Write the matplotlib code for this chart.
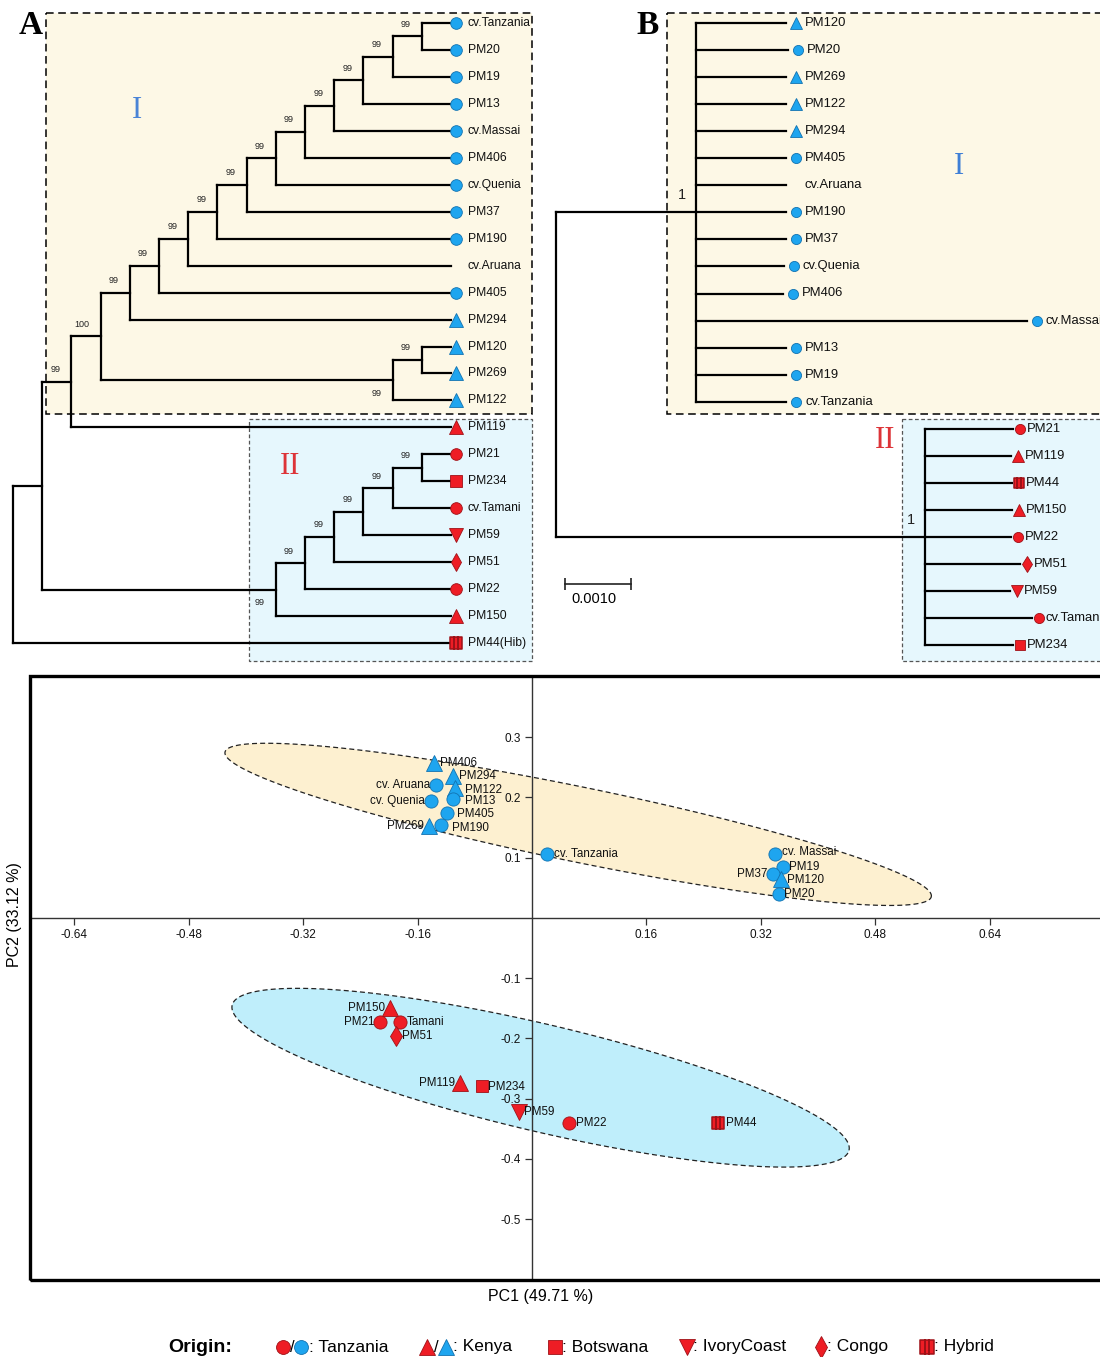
import matplotlib
matplotlib.use("Agg")
import matplotlib.pyplot as plt
import matplotlib.transforms as mtransforms
from matplotlib.collections import LineCollection
from matplotlib.patches import Rectangle, Polygon
from matplotlib.path import Path
import numpy as np

plt.rcParams['font.family'] = ['Liberation Sans', 'DejaVu Sans']
plt.rcParams['axes.unicode_minus'] = False

W, H = 1100, 1357

# ---------------- data ----------------
# panel A: maximum-likelihood cladogram with bootstrap support
TREE_A = ("(((((((((((((((cv.Tanzania,PM20)99,PM19)99,PM13)99,cv.Massai)99,PM406)99,"
          "cv.Quenia)99,PM37)99,PM190)99,cv.Aruana)99,PM405)99,PM294)99,"
          "((PM120,PM269)99,PM122)99)100,PM119)99,"
          "((((((PM21,PM234)99,cv.Tamani)99,PM59)99,PM51)99,PM22)99,PM150)99),"
          "'PM44(Hib)');")

# panel B: bayesian phylogram with posterior probabilities and branch lengths
TREE_B = ("((PM120:0.00137,PM20:0.00139,PM269:0.00136,PM122:0.00136,PM294:0.00136,"
          "PM405:0.00136,cv.Aruana:0.00136,PM190:0.00136,PM37:0.00136,cv.Quenia:0.00133,"
          "PM406:0.00132,cv.Massai:0.00501,PM13:0.00137,PM19:0.00136,cv.Tanzania:0.00137)1:0.00212,"
          "(PM21:0.00133,PM119:0.00130,PM44:0.00132,PM150:0.00132,PM22:0.00130,PM51:0.00144,"
          "PM59:0.00129,cv.Tamani:0.00162,PM234:0.00133)1:0.00559);")

TREE_ORIGIN = {
    'cv.Tanzania': 'Tanzania', 'PM20': 'Tanzania', 'PM19': 'Tanzania', 'PM13': 'Tanzania',
    'cv.Massai': 'Tanzania', 'PM406': 'Tanzania', 'cv.Quenia': 'Tanzania', 'PM37': 'Tanzania',
    'PM190': 'Tanzania', 'PM405': 'Tanzania', 'PM294': 'Kenya', 'PM120': 'Kenya',
    'PM269': 'Kenya', 'PM122': 'Kenya', 'PM119': 'Kenya', 'PM21': 'Tanzania',
    'PM234': 'Botswana', 'cv.Tamani': 'Tanzania', 'PM59': 'IvoryCoast', 'PM51': 'Congo',
    'PM22': 'Tanzania', 'PM150': 'Kenya', 'PM44(Hib)': 'Hybrid', 'PM44': 'Hybrid',
}
GROUP_II = ['PM119', 'PM21', 'PM234', 'cv.Tamani', 'PM59', 'PM51', 'PM22', 'PM150',
            'PM44(Hib)', 'PM44']

# panel C: PCA
pca_names = ['PM406', 'PM294', 'cv. Aruana', 'PM122', 'cv. Quenia', 'PM13', 'PM405',
             'PM269', 'PM190', 'cv. Tanzania', 'cv. Massai', 'PM19', 'PM37', 'PM120', 'PM20',
             'PM150', 'PM21', 'Tamani', 'PM51', 'PM119', 'PM234', 'PM59', 'PM22', 'PM44']
pca_pc1 = [-0.137, -0.110, -0.134, -0.108, -0.141, -0.110, -0.119, -0.144, -0.127, 0.021,
           0.340, 0.351, 0.337, 0.348, 0.345,
           -0.198, -0.212, -0.184, -0.190, -0.101, -0.070, -0.018, 0.052, 0.260]
pca_pc2 = [0.257, 0.236, 0.221, 0.215, 0.194, 0.197, 0.174, 0.152, 0.154, 0.106,
           0.106, 0.085, 0.073, 0.064, 0.040,
           -0.150, -0.173, -0.173, -0.196, -0.274, -0.279, -0.323, -0.341, -0.341]
pca_origin = ['Kenya', 'Kenya', 'Tanzania', 'Kenya', 'Tanzania', 'Tanzania', 'Tanzania',
              'Kenya', 'Tanzania', 'Tanzania', 'Tanzania', 'Tanzania', 'Tanzania', 'Kenya',
              'Tanzania', 'Kenya', 'Tanzania', 'Tanzania', 'Congo', 'Kenya', 'Botswana',
              'IvoryCoast', 'Tanzania', 'Hybrid']
pca_group = ['I'] * 15 + ['II'] * 9

# group ellipses: the two tips of the long axis (PC1, PC2) and the short/long axis ratio
ell_I_tips = [(-0.429, 0.275), (0.558, 0.035)]
ell_I_ratio = 0.104
ell_II_tips = [(-0.419, -0.145), (0.443, -0.386)]
ell_II_ratio = 0.169

xticks_c = [-0.64, -0.48, -0.32, -0.16, 0.16, 0.32, 0.48, 0.64]
yticks_c = [0.3, 0.2, 0.1, -0.1, -0.2, -0.3, -0.4, -0.5]

# label placement for panel C (pixels): dx, dy, side
pca_label_pos = [(6, 0, 'l'), (6, 0, 'l'), (-6, 0, 'r'), (10, -2, 'l'), (-6, 0, 'r'),
                 (12, -2, 'l'), (10, -1, 'l'), (-5, 0, 'r'), (11, -3, 'l'), (7, 0, 'l'),
                 (7, 2, 'l'), (6, 0, 'l'), (-6, 0, 'r'), (6, -1, 'l'), (5, 0, 'l'),
                 (-5, 0, 'r'), (-6, 0, 'r'), (6, 0, 'l'), (6, 0, 'l'), (-5, 0, 'r'),
                 (6, -1, 'l'), (5, 0, 'l'), (7, 0, 'l'), (8, 0, 'l')]

# ---------------- styles ----------------
BLUE, BLUE_EDGE = '#1ea5ef', '#1272b0'
RED, RED_EDGE = '#ee1d25', '#9e1117'


def hybrid_path():
    verts, codes = [], []
    for i in range(3):
        x0 = -0.5 + i / 3
        verts += [(x0, -0.5), (x0 + 1 / 3, -0.5), (x0 + 1 / 3, 0.5), (x0, 0.5), (x0, -0.5)]
        codes += [Path.MOVETO, Path.LINETO, Path.LINETO, Path.LINETO, Path.CLOSEPOLY]
    return Path(verts, codes)


MARKERS = {'Tanzania': 'o', 'Kenya': '^', 'Botswana': 's', 'IvoryCoast': 'v',
           'Congo': 'd', 'Hybrid': hybrid_path()}
SIZE_SCALE = {'Tanzania': 1.0, 'Kenya': 1.2, 'Botswana': 0.95, 'IvoryCoast': 1.15,
              'Congo': 1.1, 'Hybrid': 0.95}
EDGE_W = {'Tanzania': 0.6, 'Kenya': 0.6, 'Botswana': 0.6, 'IvoryCoast': 0.6,
          'Congo': 0.6, 'Hybrid': 1.1}


def parse_newick(s):
    pos = 0

    def node():
        nonlocal pos
        kids = []
        if s[pos] == '(':
            pos += 1
            kids.append(node())
            while s[pos] == ',':
                pos += 1
                kids.append(node())
            pos += 1
        if s[pos] == "'":
            end = s.index("'", pos + 1)
            name = s[pos + 1:end]
            pos = end + 1
        else:
            start = pos
            while s[pos] not in ",():;":
                pos += 1
            name = s[start:pos]
        length = 0.0
        if s[pos] == ':':
            pos += 1
            start = pos
            while s[pos] not in ",();":
                pos += 1
            length = float(s[start:pos])
        return {"name": name, "kids": kids, "len": length}

    return node()


def layout(root, cladogram):
    leaves = []

    def height(n):
        n["h"] = 0 if not n["kids"] else 1 + max(height(k) for k in n["kids"])
        return n["h"]

    height(root)

    def place(n, px, first):
        n["x"] = (root["h"] - n["h"]) if cladogram else px + n["len"]
        n["first"] = first
        if n["kids"]:
            for i, k in enumerate(n["kids"]):
                place(k, n["x"], i == 0)
            n["y"] = (n["kids"][0]["y"] + n["kids"][-1]["y"]) / 2
        else:
            n["y"] = len(leaves)
            leaves.append(n)

    place(root, 0.0, True)
    return leaves


def marker_kw(org, red, ms):
    return dict(marker=MARKERS[org], ms=ms * SIZE_SCALE[org], mfc=RED if red else BLUE,
                mec=RED_EDGE if red else BLUE_EDGE, mew=EDGE_W[org], ls='none')


def draw_tree(ax, root, leaves, ms, fs, mark_dx, text_dx, sup_fs, sup_off):
    segs, internals = [], []

    def walk(n):
        if n["kids"]:
            internals.append(n)
            segs.append([(n["x"], n["kids"][0]["y"]), (n["x"], n["kids"][-1]["y"])])
            for k in n["kids"]:
                segs.append([(n["x"], k["y"]), (k["x"], k["y"])])
                walk(k)

    walk(root)
    ax.add_collection(LineCollection(segs, colors='black', linewidths=1.6,
                                     capstyle='projecting', zorder=2))
    for n in internals:
        if n is root or not n["name"]:
            continue
        dx, dy = sup_off(n)
        ax.annotate(n["name"], (n["x"], n["y"]), xytext=(dx, dy), textcoords='offset pixels',
                    ha='center', va='center', fontsize=sup_fs, color='#222222')
    for lf in leaves:
        name = lf["name"]
        red = name in GROUP_II
        mdx = mark_dx[1] if red else mark_dx[0]
        tdx = text_dx[1] if red else text_dx[0]
        org = TREE_ORIGIN.get(name)
        if org:
            tr = mtransforms.offset_copy(ax.transData, fig=ax.figure, x=mdx, y=0, units='dots')
            ax.plot([lf["x"]], [lf["y"]], transform=tr, zorder=3, clip_on=False,
                    **marker_kw(org, red, ms))
        ax.annotate(name, (lf["x"], lf["y"]), xytext=(tdx, 0), textcoords='offset pixels',
                    ha='left', va='center', fontsize=fs, color='#111111')


def rect(x0, y0, x1, y1):
    return [x0 / W, 1 - y1 / H, (x1 - x0) / W, (y1 - y0) / H]


fig = plt.figure(figsize=(W / 100, H / 100), dpi=100)

# background / decoration layer in pixel coordinates
deco = fig.add_axes([0, 0, 1, 1])
deco.set_xlim(0, W)
deco.set_ylim(H, 0)
deco.axis('off')

deco.add_patch(Rectangle((46, 13), 486, 401, fc='#fdf8e6', ec='black', lw=1.1, ls=(0, (5, 3))))
deco.add_patch(Rectangle((249, 419), 283, 242, fc='#e6f7fd', ec='#555555', lw=0.9, ls=(0, (3, 2))))
deco.add_patch(Rectangle((667, 13), 480, 401, fc='#fdf8e6', ec='black', lw=1.1, ls=(0, (5, 3))))
deco.add_patch(Rectangle((902, 419), 250, 242, fc='#e6f7fd', ec='#555555', lw=0.9, ls=(0, (3, 2))))

serif = ['Liberation Serif', 'DejaVu Serif']
for letter, (x, y) in zip('ABC', [(31, 25), (648, 25), (55, 700)]):
    deco.text(x, y, letter, family=serif, fontsize=24, fontweight='bold', ha='center', va='center')
for txt, (x, y), col in [('I', (137, 111), '#4a84d6'), ('II', (290, 466), '#dd3438'),
                         ('I', (959, 166), '#3f7fd6'), ('II', (885, 441), '#dd3438')]:
    deco.text(x, y, txt, family=serif, fontsize=22, color=col, ha='center', va='center')

# ---------------- panel A ----------------
tree_a = parse_newick(TREE_A)
leaves_a = layout(tree_a, cladogram=True)
ax_a = fig.add_axes(rect(0, 0, 550, 670))
ax_a.set_xlim((0 - 13) / 29.2, (550 - 13) / 29.2)
ax_a.set_ylim((670 - 23) / 26.96, (0 - 23) / 26.96)
ax_a.axis('off')
ax_a.patch.set_visible(False)


def sup_a(n):
    dx = -19 if n["name"] == '100' else -16
    return (dx, 12) if n["first"] else (dx, -13)


draw_tree(ax_a, tree_a, leaves_a, ms=8.4, fs=8.7, mark_dx=(5, 5), text_dx=(17, 17),
          sup_fs=6.5, sup_off=sup_a)

# ---------------- panel B ----------------
tree_b = parse_newick(TREE_B)
leaves_b = layout(tree_b, cladogram=False)
ax_b = fig.add_axes(rect(540, 0, 1100, 670))
ax_b.set_xlim((540 - 556) / 66000, (1100 - 556) / 66000)
ax_b.set_ylim((670 - 23) / 27.05, (0 - 23) / 27.05)
ax_b.axis('off')
ax_b.patch.set_visible(False)
draw_tree(ax_b, tree_b, leaves_b, ms=7.3, fs=9.4, mark_dx=(10, 7), text_dx=(19, 14),
          sup_fs=10.5, sup_off=lambda n: (-14, 17))

# scale bar
bar_x0, bar_len, bar_y = 0.000136, 0.001, 20.74
ax_b.plot([bar_x0, bar_x0 + bar_len], [bar_y, bar_y], color='#222222', lw=1.2,
          marker='|', ms=9, mew=1.2)
ax_b.annotate('%.4f' % bar_len, (bar_x0 + bar_len / 2, bar_y), xytext=(-4, -15),
              textcoords='offset pixels', ha='center', va='center', fontsize=10.5)

# ---------------- panel C ----------------
x0c, sxc, y0c, syc = 532, 715.6, 917.75, 602.5
ax_c = fig.add_axes(rect(30, 676, 1140, 1280))
ax_c.set_xlim((30 - x0c) / sxc, (1140 - x0c) / sxc)
ax_c.set_ylim((y0c - 1280) / syc, (y0c - 676) / syc)


def draw_ellipse(ax, tips, ratio, color):
    p = ax.transData.transform(np.array(tips))
    c = p.mean(axis=0)
    a = (p[1] - p[0]) / 2
    b = np.array([-a[1], a[0]]) * ratio
    t = np.linspace(0, 2 * np.pi, 300)
    pts = c + np.outer(np.cos(t), a) + np.outer(np.sin(t), b)
    pts = ax.transData.inverted().transform(pts)
    ax.add_patch(Polygon(pts, closed=True, fc=color, ec='#222222', lw=0.9,
                         ls=(0, (4, 2.5)), zorder=1))


draw_ellipse(ax_c, ell_I_tips, ell_I_ratio, '#fdf0d0')
draw_ellipse(ax_c, ell_II_tips, ell_II_ratio, '#bfeefb')

for sp in ['top', 'right']:
    ax_c.spines[sp].set_visible(False)
for sp in ['left', 'bottom']:
    ax_c.spines[sp].set_position(('data', 0))
    ax_c.spines[sp].set_color('#333333')
    ax_c.spines[sp].set_linewidth(1.0)
    ax_c.spines[sp].set_zorder(2)
ax_c.add_patch(Rectangle((0, 0), 1, 1, transform=ax_c.transAxes, fill=False, lw=2.4,
                         ec='black', clip_on=False, zorder=6))
ax_c.set_xticks(xticks_c)
ax_c.set_xticklabels(['%.2f' % v for v in xticks_c])
ax_c.set_yticks(yticks_c)
ax_c.set_yticklabels(['%.1f' % v for v in yticks_c])
ax_c.tick_params(direction='out', length=5, width=0.9, color='#333333', labelsize=8.5,
                 pad=3, labelcolor='#111111')

for i, name in enumerate(pca_names):
    org = pca_origin[i]
    red = pca_group[i] == 'II'
    ax_c.plot(pca_pc1[i], pca_pc2[i], zorder=4, **marker_kw(org, red, 9.5))
    dx, dy, side = pca_label_pos[i]
    ax_c.annotate(name, (pca_pc1[i], pca_pc2[i]), xytext=(dx, dy), textcoords='offset pixels',
                  ha='left' if side == 'l' else 'right', va='center', fontsize=8.4,
                  color='#111111', zorder=5)

fig.text(541 / W, 1 - 1296 / H, 'PC1 (49.71 %)', ha='center', va='center', fontsize=11.5)
fig.text(15 / W, 1 - 915 / H, 'PC2 (33.12 %)', ha='center', va='center', fontsize=11.5,
         rotation=90)

# ---------------- origin legend ----------------
ly = 1347
deco.text(168, ly, 'Origin:', fontsize=14, fontweight='bold', ha='left', va='center')
legend_items = [
    (('Tanzania', [283, 301]), ': Tanzania', 309),
    (('Kenya', [427, 446]), ': Kenya', 453),
    (('Botswana', [555]), ': Botswana', 562),
    (('IvoryCoast', [687]), ': IvoryCoast', 693),
    (('Congo', [821]), ': Congo', 827),
    (('Hybrid', [927]), ': Hybrid', 934),
]
for (org, xs), label, tx in legend_items:
    for j, x in enumerate(xs):
        deco.plot(x, ly, **marker_kw(org, j == 0, 10))
    if len(xs) == 2:
        deco.text((xs[0] + xs[1]) / 2, ly, '/', fontsize=12, ha='center', va='center')
    deco.text(tx, ly, label, fontsize=12.5, ha='left', va='center')

fig.savefig('out.png', dpi=100)
